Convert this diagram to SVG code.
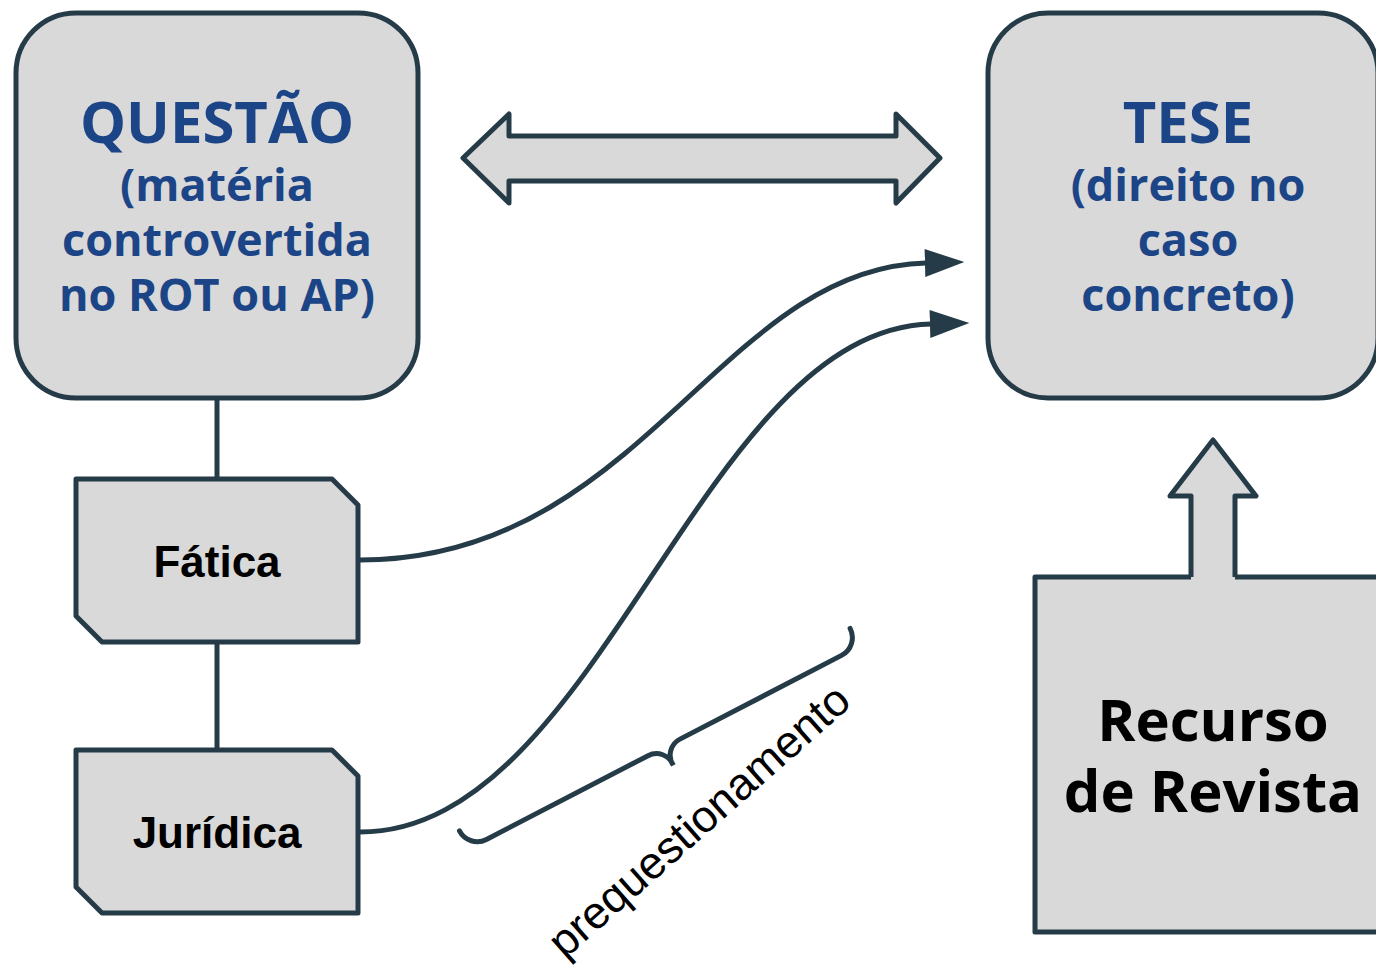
<svg xmlns="http://www.w3.org/2000/svg" width="1376" height="967" viewBox="0 0 1376 967">
  <style>
    .box{fill:#d9d9d9;stroke:#253c48;stroke-width:5;stroke-linejoin:round}
    .line{fill:none;stroke:#253c48;stroke-width:5}
    .blue{font-family:"Open Sans","Noto Sans",sans-serif;font-weight:bold;fill:#1c4587;text-anchor:middle}
    .black{font-family:"Open Sans","Noto Sans",sans-serif;font-weight:bold;fill:#000;text-anchor:middle}
    .arial{font-family:"Liberation Sans",Arial,sans-serif;font-weight:bold;fill:#000;text-anchor:middle;font-size:44px}
    .label{font-family:"Liberation Sans",Arial,sans-serif;fill:#000;text-anchor:middle;font-size:45px}
  </style>
  <defs>
    <marker id="ah" markerUnits="userSpaceOnUse" markerWidth="40" markerHeight="28" viewBox="0 0 38 27" refX="1" refY="13.5" orient="auto">
      <path d="M0,0 L38,13.5 L0,27 Z" fill="#253c48"/>
    </marker>
  </defs>
  <rect width="1376" height="967" fill="#ffffff"/>

  <g id="connectors">
    <line class="line" x1="217" y1="398" x2="217" y2="480"/>
    <line class="line" x1="217" y1="642" x2="217" y2="751"/>
    <path class="line" d="M 360 560 C 640 560, 720 268, 926 263" marker-end="url(#ah)"/>
    <path class="line" d="M 360 832 C 600 832, 700 330, 931 324" marker-end="url(#ah)"/>
    <polygon class="box" points="463,158 509,114 509,136 896,136 896,114 940,158 896,203 896,181 509,181 509,203"/>
  </g>

  <g id="questao">
    <rect class="box" x="16" y="13" width="402" height="385" rx="60" ry="60"/>
    <text class="blue" x="217" y="143" font-size="58">QUESTÃO</text>
    <text class="blue" x="217" y="201" font-size="45">(matéria</text>
    <text class="blue" x="217" y="256" font-size="45">controvertida</text>
    <text class="blue" x="217" y="311" font-size="45">no ROT ou AP)</text>
  </g>

  <g id="tese">
    <rect class="box" x="988" y="13" width="390" height="385" rx="60" ry="60"/>
    <text class="blue" x="1188" y="143" font-size="58">TESE</text>
    <text class="blue" x="1188" y="201" font-size="45">(direito no</text>
    <text class="blue" x="1188" y="256" font-size="45">caso</text>
    <text class="blue" x="1188" y="311" font-size="45">concreto)</text>
  </g>

  <g id="fatica">
    <path class="box" d="M 76 479 L 332 479 L 358 505 L 358 642 L 102 642 L 76 616 Z"/>
    <text class="arial" x="217" y="577">Fática</text>
  </g>

  <g id="juridica">
    <path class="box" d="M 76 750 L 332 750 L 358 776 L 358 913 L 102 913 L 76 887 Z"/>
    <text class="arial" x="217" y="848">Jurídica</text>
  </g>

  <g id="recurso">
    <rect class="box" x="1035" y="577" width="360" height="355"/>
    <path d="M 1191 580 L 1191 496 L 1170 496 L 1213 440 L 1256 496 L 1235 496 L 1235 580 Z" fill="#d9d9d9" stroke="none"/>
    <path class="line" stroke-linejoin="round" d="M 1191 577 L 1191 496 L 1170 496 L 1213 440 L 1256 496 L 1235 496 L 1235 577"/>
    <text class="black" x="1213" y="741" font-size="58">Recurso</text>
    <text class="black" x="1213" y="812" font-size="58">de Revista</text>
  </g>

  <g id="prequestionamento">
    <path class="line" stroke-linecap="round" transform="translate(664,747.4) rotate(-27.4)" d="M -220 -20 A 20 20 0 0 0 -200 0 L -18 0 A 18 18 0 0 1 0 20 A 18 18 0 0 1 18 0 L 200 0 A 20 20 0 0 0 220 -20"/>
    <text class="label" transform="translate(709,832) rotate(-41.5)">prequestionamento</text>
  </g>
</svg>
